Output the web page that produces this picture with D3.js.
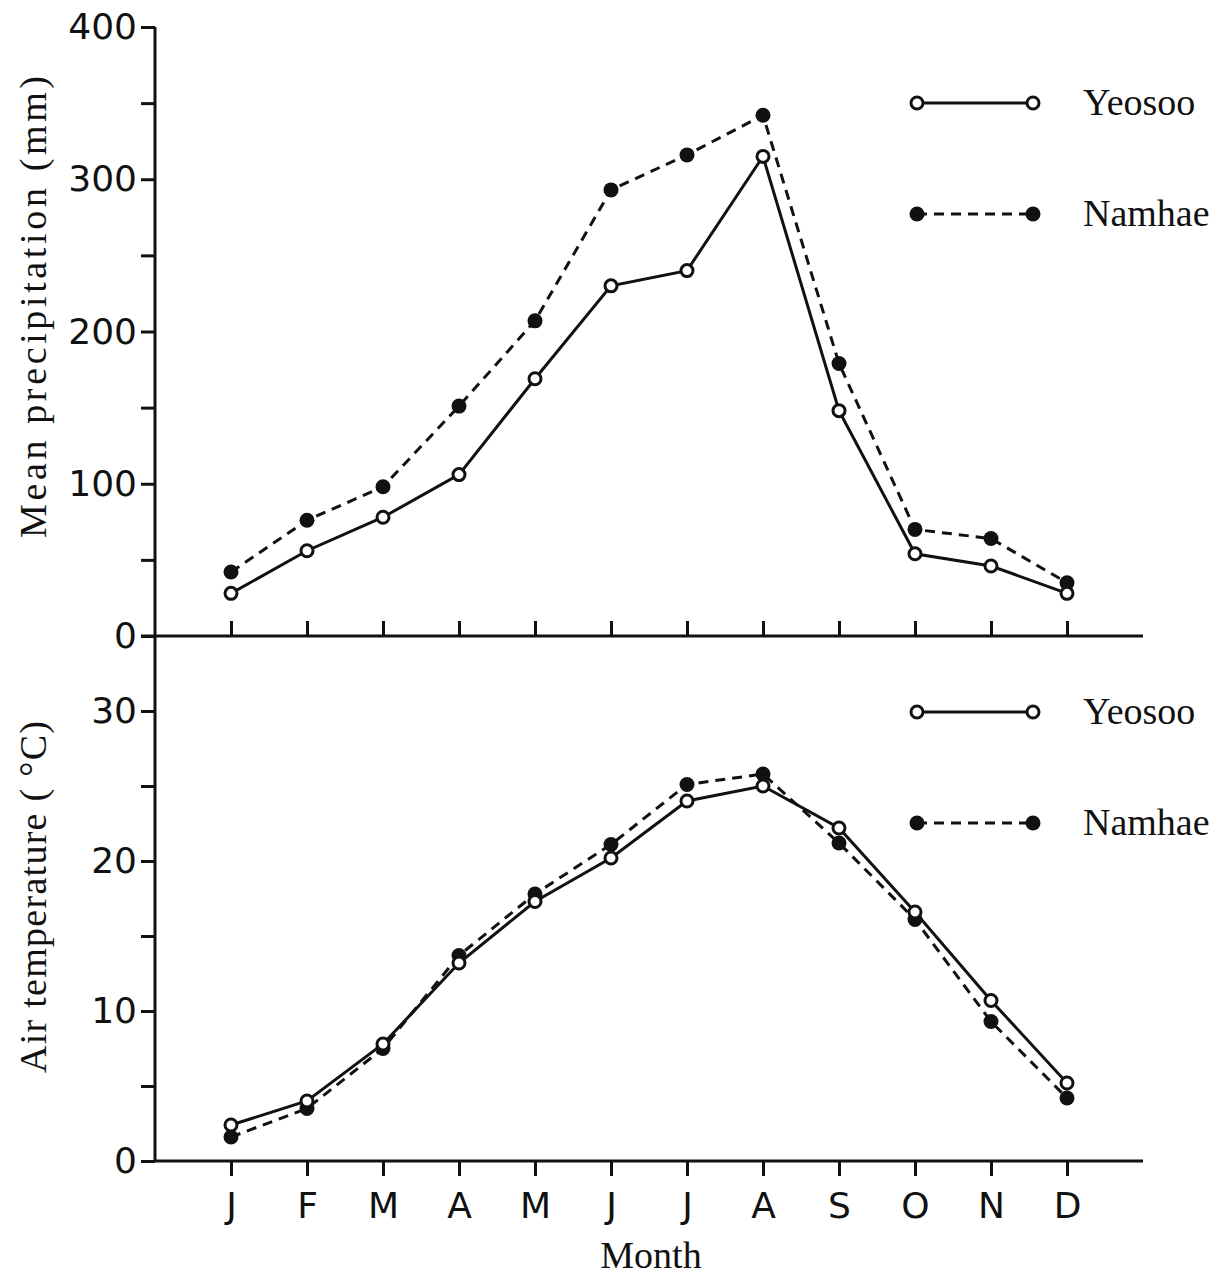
<!DOCTYPE html>
<html>
    <head>
        <meta charset="utf-8">
        <script type="text/javascript" src="https://d3js.org/d3.v7.min.js"></script>
        <style>
            html, body {
                margin: 0;
                padding: 0;
                background: #fff;
            }
            svg .tick text {
                font-family: "DejaVu Sans", sans-serif;
                font-size: 36px;
                fill: #111;
            }
            svg .tick line {
                stroke: #111;
                stroke-width: 3;
            }
            svg .title, svg .legend text {
                font-family: "Liberation Serif", "Times New Roman", serif;
                font-size: 38px;
                fill: #111;
            }
        </style>
    </head>
    <body>
        <div id="chart"></div>

        <script>
            var months = ["J", "F", "M", "A", "M", "J", "J", "A", "S", "O", "N", "D"];
            var seriesNames = ["Yeosoo", "Namhae"];

            // mean precipitation (mm)
            var precipYeosoo = [28, 56, 78, 106, 169, 230, 240, 315, 148, 54, 46, 28];
            var precipNamhae = [42, 76, 98, 151, 207, 293, 316, 342, 179, 70, 64, 35];

            // air temperature (deg C)
            var tempYeosoo = [2.4, 4.0, 7.8, 13.2, 17.3, 20.2, 24.0, 25.0, 22.2, 16.6, 10.7, 5.2];
            var tempNamhae = [1.6, 3.5, 7.5, 13.7, 17.8, 21.1, 25.1, 25.8, 21.2, 16.1, 9.3, 4.2];

            var precipTicks = [0, 50, 100, 150, 200, 250, 300, 350, 400];
            var tempTicks = [0, 5, 10, 15, 20, 25, 30];

            var width = 1221, height = 1277;
            var tick = 14;

            var svg = d3.select("#chart")
                .append("svg")
                    .attr("width", width)
                    .attr("height", height);

            var x = d3.scaleLinear().domain([0, 11]).range([231, 1067]);
            var yTop = d3.scaleLinear().domain([0, 400]).range([636, 27]);
            var yBot = d3.scaleLinear().domain([0, 35]).range([1161, 636]);

            var axisX = x(-1);

            // y axes
            svg.append("g")
                .attr("transform", "translate(" + axisX + ",0)")
                .call(d3.axisLeft(yTop).tickValues(precipTicks).tickSize(tick).tickPadding(4)
                    .tickFormat(function(d) { return d % 100 === 0 ? d : ""; }))
                .call(function(g) { g.select(".domain").remove(); });

            svg.append("g")
                .attr("transform", "translate(" + axisX + ",0)")
                .call(d3.axisLeft(yBot).tickValues(tempTicks).tickSize(tick).tickPadding(4)
                    .tickFormat(function(d) { return d % 10 === 0 ? d : ""; }))
                .call(function(g) { g.select(".domain").remove(); });

            // x axes: ticks up in top panel, down with labels in bottom panel
            svg.append("g")
                .attr("transform", "translate(0," + yTop(0) + ")")
                .call(d3.axisTop(x).tickValues(d3.range(12)).tickSize(15).tickFormat(""))
                .call(function(g) { g.select(".domain").remove(); });

            svg.append("g")
                .attr("transform", "translate(0," + yBot(0) + ")")
                .call(d3.axisBottom(x).tickValues(d3.range(12)).tickSize(15).tickPadding(16)
                    .tickFormat(function(i) { return months[i]; }))
                .call(function(g) { g.select(".domain").remove(); });

            // axis lines
            var frame = svg.append("g")
                .attr("stroke", "#111")
                .attr("stroke-width", 3)
                .attr("fill", "none");
            frame.append("line")
                .attr("x1", axisX).attr("x2", axisX)
                .attr("y1", yTop(400)).attr("y2", yBot(0));
            frame.append("line")
                .attr("x1", axisX - tick).attr("x2", x(12))
                .attr("y1", yTop(0)).attr("y2", yTop(0));
            frame.append("line")
                .attr("x1", axisX).attr("x2", x(12))
                .attr("y1", yBot(0)).attr("y2", yBot(0));

            function drawSeries(values, y, filled) {
                var line = d3.line()
                    .x(function(d, i) { return x(i); })
                    .y(function(d) { return y(d); });
                svg.append("path")
                    .datum(values)
                    .attr("d", line)
                    .attr("fill", "none")
                    .attr("stroke", "#111")
                    .attr("stroke-width", 3)
                    .attr("stroke-dasharray", filled ? "10,7" : null);
                svg.append("g").selectAll("circle")
                    .data(values)
                    .enter()
                    .append("circle")
                    .attr("cx", function(d, i) { return x(i); })
                    .attr("cy", function(d) { return y(d); })
                    .attr("r", filled ? 7.5 : 6)
                    .attr("fill", filled ? "#111" : "#fff")
                    .attr("stroke", "#111")
                    .attr("stroke-width", filled ? 0 : 3);
            }

            drawSeries(precipNamhae, yTop, true);
            drawSeries(precipYeosoo, yTop, false);
            drawSeries(tempNamhae, yBot, true);
            drawSeries(tempYeosoo, yBot, false);

            // legends
            function drawLegend(yFirst, ySecond) {
                var rows = [
                    {name: seriesNames[0], y: yFirst, filled: false},
                    {name: seriesNames[1], y: ySecond, filled: true}
                ];
                var g = svg.append("g").attr("class", "legend");
                rows.forEach(function(r) {
                    g.append("line")
                        .attr("x1", 917).attr("x2", 1033)
                        .attr("y1", r.y).attr("y2", r.y)
                        .attr("stroke", "#111")
                        .attr("stroke-width", 3)
                        .attr("stroke-dasharray", r.filled ? "10,7" : null);
                    [917, 1033].forEach(function(cx) {
                        g.append("circle")
                            .attr("cx", cx).attr("cy", r.y)
                            .attr("r", r.filled ? 7.5 : 6)
                            .attr("fill", r.filled ? "#111" : "#fff")
                            .attr("stroke", "#111")
                            .attr("stroke-width", r.filled ? 0 : 3);
                    });
                    g.append("text")
                        .attr("x", 1083)
                        .attr("y", r.y + 12)
                        .text(r.name);
                });
            }
            drawLegend(103, 214);
            drawLegend(712, 823);

            // axis titles
            svg.append("text")
                .attr("class", "title")
                .attr("text-anchor", "middle")
                .attr("textLength", 462)
                .attr("lengthAdjust", "spacing")
                .attr("transform", "translate(46," + 307 + ") rotate(-90)")
                .text("Mean precipitation (mm)");

            svg.append("text")
                .attr("class", "title")
                .attr("text-anchor", "middle")
                .attr("textLength", 352)
                .attr("lengthAdjust", "spacing")
                .attr("transform", "translate(46," + 897 + ") rotate(-90)")
                .text("Air temperature ( \u00B0C)");

            svg.append("text")
                .attr("class", "title")
                .attr("text-anchor", "middle")
                .attr("x", 651)
                .attr("y", 1268)
                .text("Month");
        </script>
    </body>
</html>
